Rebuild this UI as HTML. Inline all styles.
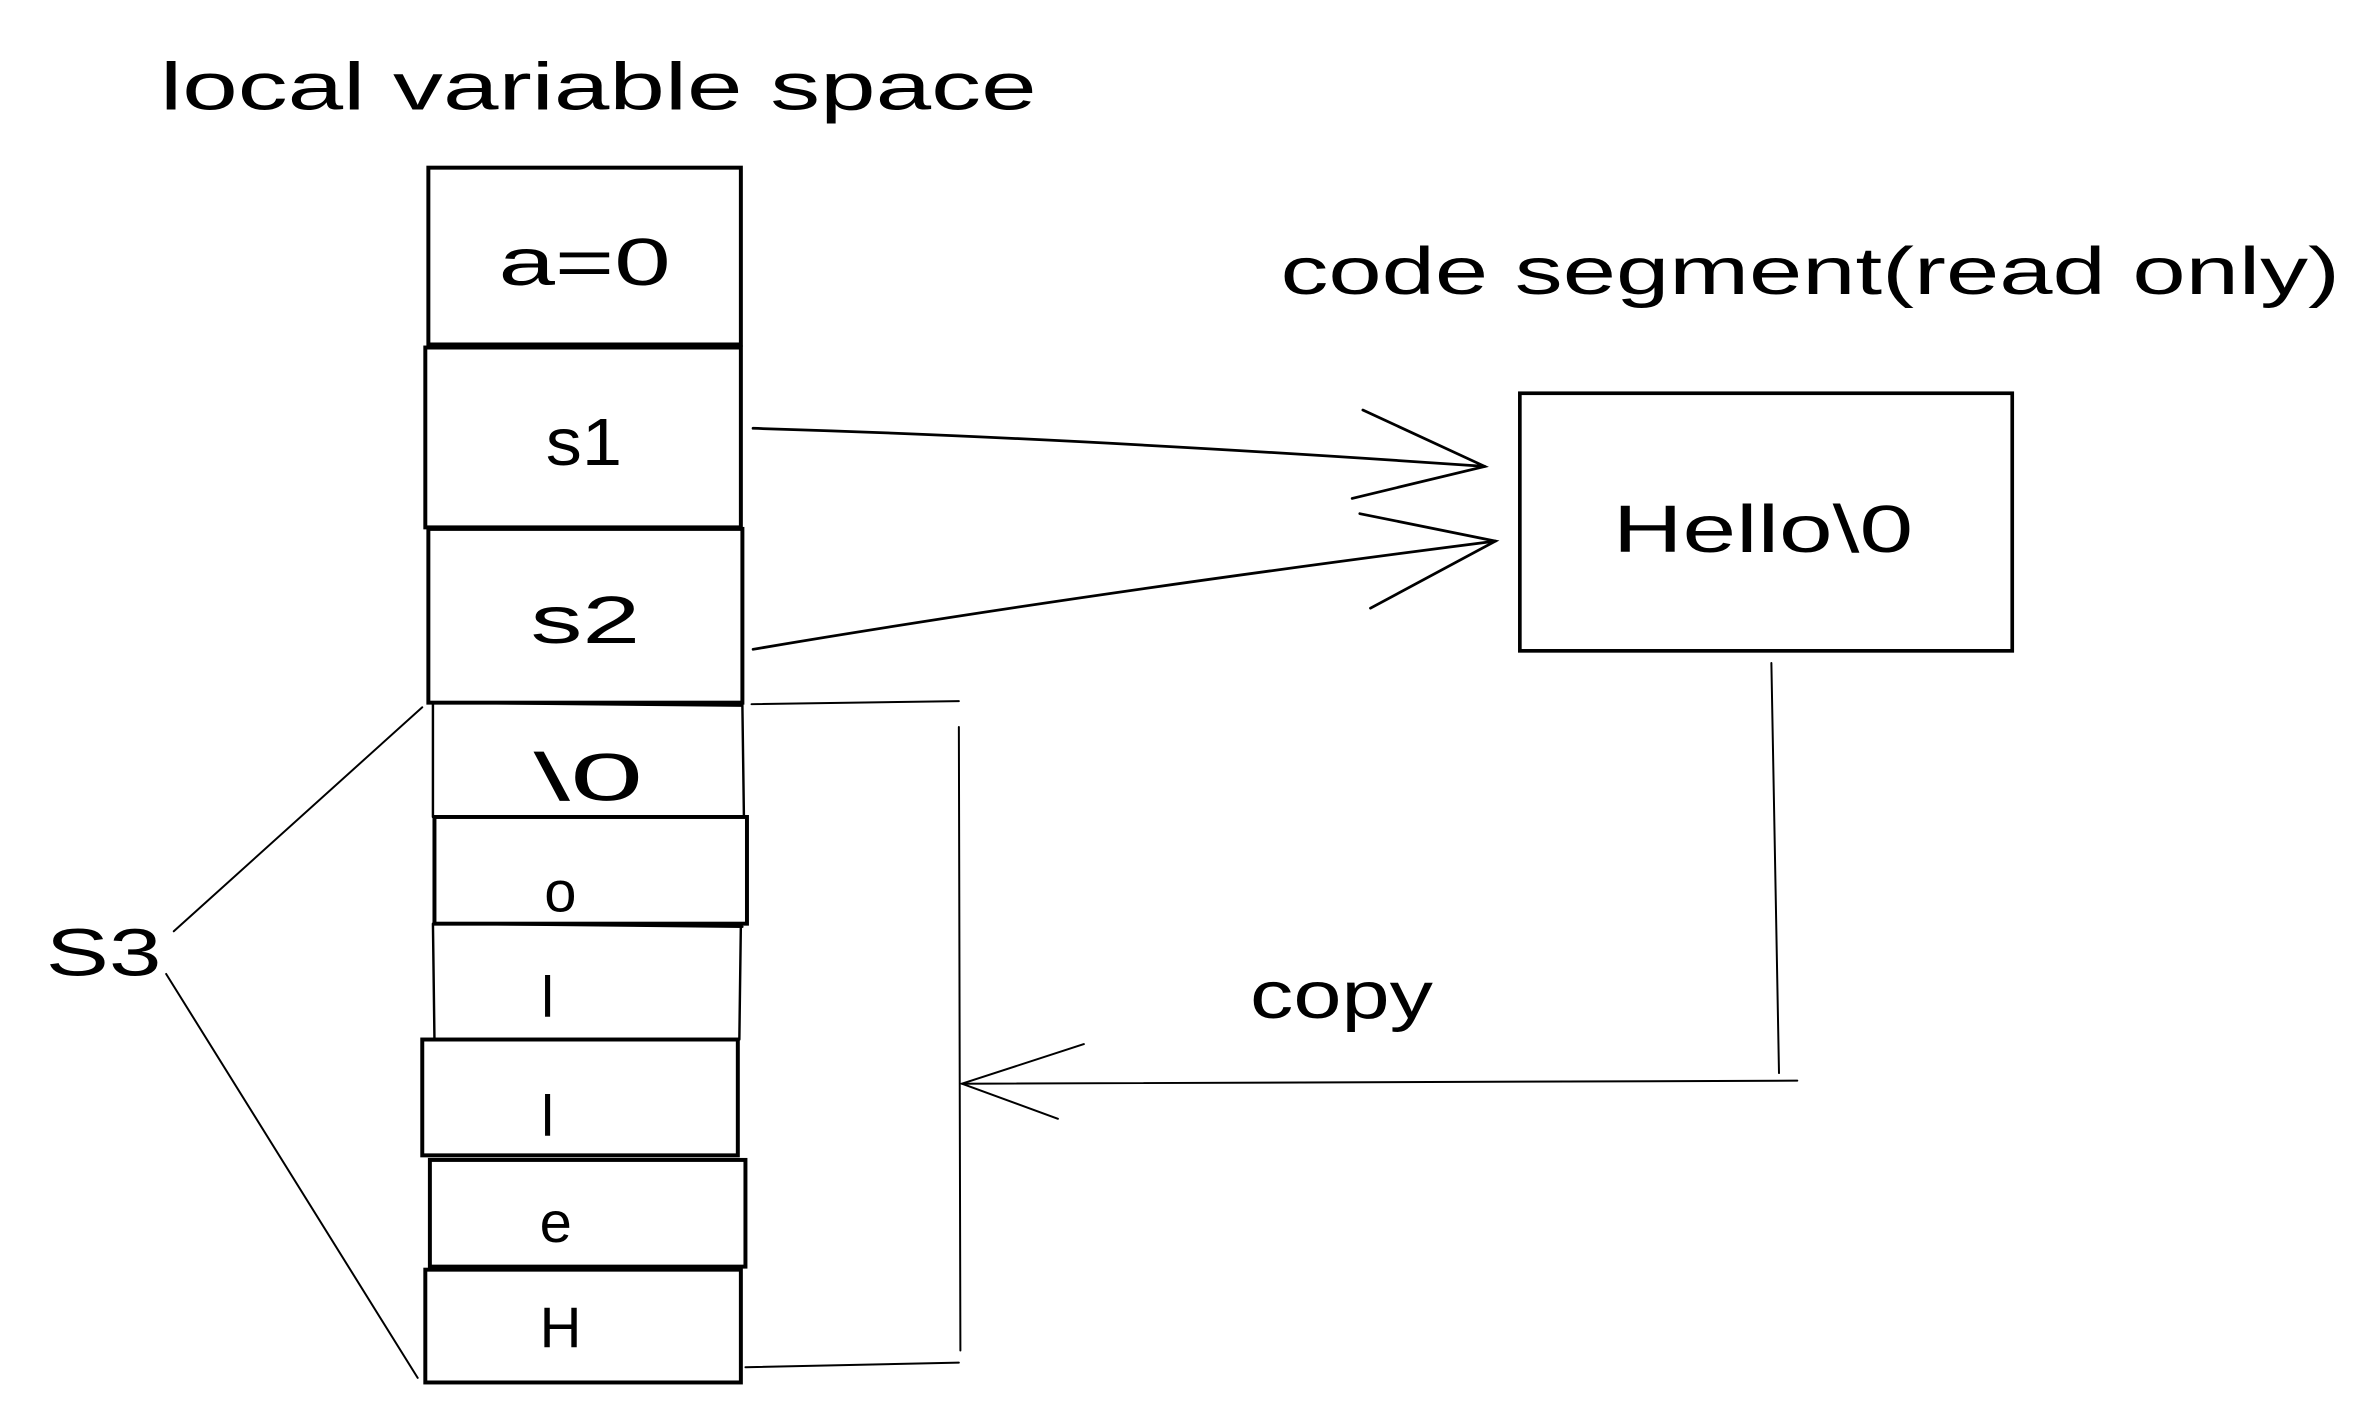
<!DOCTYPE html>
<html>
<head>
<meta charset="utf-8">
<style>
html,body{margin:0;padding:0;background:#fff;}
svg{display:block;}
text{font-family:"Liberation Sans",sans-serif;fill:#000;}
</style>
</head>
<body>
<svg width="2372" height="1416" viewBox="0 0 1556 929" preserveAspectRatio="none" xmlns="http://www.w3.org/2000/svg">
<rect x="0" y="0" width="1556" height="929" fill="#fff"/>
<g fill="none" stroke="#000" stroke-linecap="round">
  <g stroke-width="2.6">
    <rect x="281" y="110" width="205" height="116"/>
    <rect x="279" y="228" width="207" height="118"/>
    <rect x="281" y="347" width="206" height="114"/>
    <rect x="285" y="536" width="205" height="70"/>
    <rect x="277" y="682" width="207" height="76"/>
    <rect x="282" y="761" width="207" height="70"/>
    <rect x="279" y="833" width="207" height="74"/>
  </g>
  <g stroke-width="1.6">
    <path d="M284 461 L487 463 L488 536 M284 461 L284 536"/>
    <path d="M284 606 L285 682 M486 606 L485 682 M284 606 L487 608"/>
  </g>
  <rect x="997" y="258" width="323" height="169" stroke-width="2.4"/>
  <g stroke-width="1.8">
    <path d="M494 281 Q700 287 974 306"/>
    <path d="M894 269 L974 306 L887 327"/>
    <path d="M494 426 Q700 391 981 355"/>
    <path d="M892 337 L981 355 L899 399"/>
  </g>
  <g stroke-width="1.3">
    <path d="M493 462 L629 460"/>
    <path d="M629 477 L630 886"/>
    <path d="M489 897 L629 894"/>
    <path d="M1162 435 L1167 704"/>
    <path d="M1179 709 L631 711"/>
    <path d="M711 685 L631 711 L694 734"/>
    <path d="M114 611 L277 464"/>
    <path d="M109 639 L274 904"/>
  </g>
</g>
<g font-size="44">
  <text x="105" y="72" textLength="575" lengthAdjust="spacingAndGlyphs">local variable space</text>
  <text x="840" y="193" textLength="695" lengthAdjust="spacingAndGlyphs">code segment(read only)</text>
  <text x="1058" y="362" textLength="197" lengthAdjust="spacingAndGlyphs">Hello\0</text>
  <text x="327" y="187" textLength="113" lengthAdjust="spacingAndGlyphs">a=0</text>
  <text x="358" y="305" textLength="50" lengthAdjust="spacingAndGlyphs">s1</text>
  <text x="348" y="422" textLength="72" lengthAdjust="spacingAndGlyphs">s2</text>
  <text x="350" y="525" textLength="72" lengthAdjust="spacingAndGlyphs">\0</text>
  <text x="820" y="668" textLength="120" lengthAdjust="spacingAndGlyphs">copy</text>
  <text x="30" y="640" textLength="76" lengthAdjust="spacingAndGlyphs">S3</text>
</g>
<g font-size="38">
  <text x="357" y="598">o</text>
  <text x="355" y="667">l</text>
  <text x="355" y="745">l</text>
  <text x="354" y="815">e</text>
  <text x="354" y="884">H</text>
</g>
</svg>
</body>
</html>
